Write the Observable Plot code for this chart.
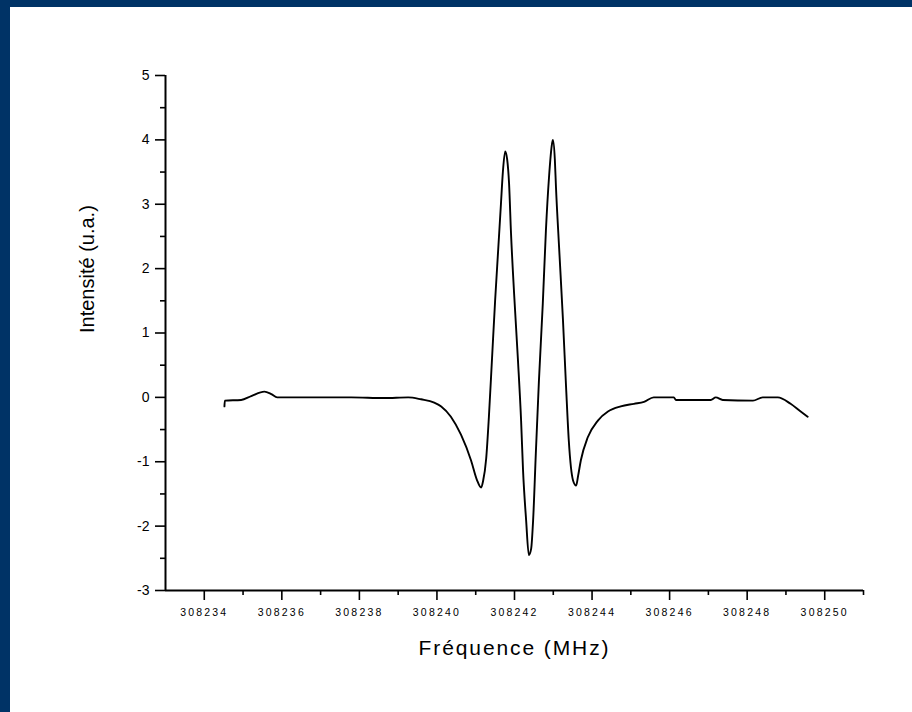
<!DOCTYPE html>
<html>
<head>
<meta charset="utf-8">
<script src="https://cdn.jsdelivr.net/npm/d3@7"></script>
<script src="https://cdn.jsdelivr.net/npm/@observablehq/plot@0.6"></script>
<style>
  html, body { margin: 0; padding: 0; overflow: hidden; background: #fff; }
  #frame { width: 912px; height: 712px; box-sizing: border-box; border-top: 7px solid #003366; border-left: 10px solid #003366; background: #fff; }
  #frame svg [aria-label="x-axis tick label"] text { letter-spacing: 2.2px; }
  #frame svg .xtitle text { letter-spacing: 1.9px; }
</style>
</head>
<body>
<div id="frame"></div>
<script>
// Spectrum data (frequency in MHz, intensity in a.u.)
const freq = [
  308234.52, 308234.53, 308234.95, 308235.21, 308235.55, 308235.73, 308235.88, 308237.79, 308238.64,
  308239.26, 308239.59, 308239.93, 308240.11, 308240.36, 308240.62, 308240.88, 308241.03, 308241.14,
  308241.19, 308241.27, 308241.34, 308241.42, 308241.50, 308241.58, 308241.65, 308241.70, 308241.76, 308241.81,
  308241.86, 308241.91, 308241.99, 308242.09, 308242.17, 308242.22, 308242.30, 308242.37, 308242.43,
  308242.48, 308242.55, 308242.63, 308242.73, 308242.81, 308242.89, 308242.97, 308242.99, 308243.04,
  308243.07, 308243.15, 308243.25, 308243.33, 308243.40, 308243.51, 308243.59, 308243.64, 308243.71, 308243.89,
  308244.15, 308244.41, 308244.74, 308245.08, 308245.34, 308245.59, 308246.11, 308246.16, 308247.06,
  308247.19, 308247.37, 308248.15, 308248.40, 308248.79, 308249.12, 308249.38, 308249.56
];
const intensity = [
  -0.14, -0.05, -0.04, 0.02, 0.09, 0.05, 0.0, 0.0, -0.01,
  0.0, -0.03, -0.08, -0.14, -0.30, -0.58, -0.98, -1.28, -1.40,
  -1.30, -0.95, -0.30, 0.60, 1.50, 2.30, 3.00, 3.50, 3.82, 3.70,
  3.32, 2.55, 1.61, 0.57, -0.36, -1.13, -1.91, -2.45, -2.35,
  -1.91, -0.87, 0.26, 1.46, 2.59, 3.42, 3.95, 4.00, 3.70,
  3.26, 2.33, 1.20, 0.16, -0.67, -1.29, -1.37, -1.22, -0.98, -0.62,
  -0.36, -0.22, -0.14, -0.10, -0.07, 0.0, 0.0, -0.04, -0.04,
  0.0, -0.04, -0.05, 0.0, 0.0, -0.10, -0.22, -0.30
];

const xDomain = [308233, 308251];
const yDomain = [-3, 5];
const xMajorTicks = [308234, 308236, 308238, 308240, 308242, 308244, 308246, 308248, 308250];
const xMinorTicks = [308235, 308237, 308239, 308241, 308243, 308245, 308247, 308249, 308251];
const yMajorTicks = [-3, -2, -1, 0, 1, 2, 3, 4, 5];
const yMinorTicks = [-2.5, -1.5, -0.5, 0.5, 1.5, 2.5, 3.5, 4.5];
const xTitle = "Fréquence (MHz)";
const yTitle = "Intensité (u.a.)";

const data = freq.map((f, i) => ({f, v: intensity[i]}));

const chart = Plot.plot({
  width: 902,
  height: 705,
  marginLeft: 155,
  marginRight: 49,
  marginTop: 68,
  marginBottom: 122,
  style: {fontFamily: "'Liberation Sans', Arial, sans-serif", color: "#000", background: "#fff"},
  x: {domain: xDomain},
  y: {domain: yDomain},
  marks: [
    Plot.axisX({ticks: xMajorTicks, tickSize: 10, tickPadding: 8, fontSize: 10.5, strokeWidth: 1.6, tickFormat: d => String(d), label: null}),
    Plot.axisX({ticks: xMinorTicks, tickSize: 5, strokeWidth: 1.6, tickFormat: () => "", label: null}),
    Plot.axisY({ticks: yMajorTicks, tickSize: 10, tickPadding: 6, fontSize: 14, strokeWidth: 1.6, tickFormat: d => String(d), label: null}),
    Plot.axisY({ticks: yMinorTicks, tickSize: 5, strokeWidth: 1.6, tickFormat: () => "", label: null}),
    Plot.ruleX([xDomain[0]], {stroke: "#000", strokeWidth: 2}),
    Plot.ruleY([yDomain[0]], {stroke: "#000", strokeWidth: 2}),
    Plot.line(data, {x: "f", y: "v", stroke: "#000", strokeWidth: 1.9, curve: "monotone-x"}),
    Plot.text([xTitle], {frameAnchor: "bottom", dy: 64, fontSize: 21, fill: "#000", className: "xtitle"}),
    Plot.text([yTitle], {frameAnchor: "left", dx: -78, rotate: -90, fontSize: 20, fill: "#000"})
  ]
});
document.getElementById("frame").appendChild(chart);
</script>
</body>
</html>
